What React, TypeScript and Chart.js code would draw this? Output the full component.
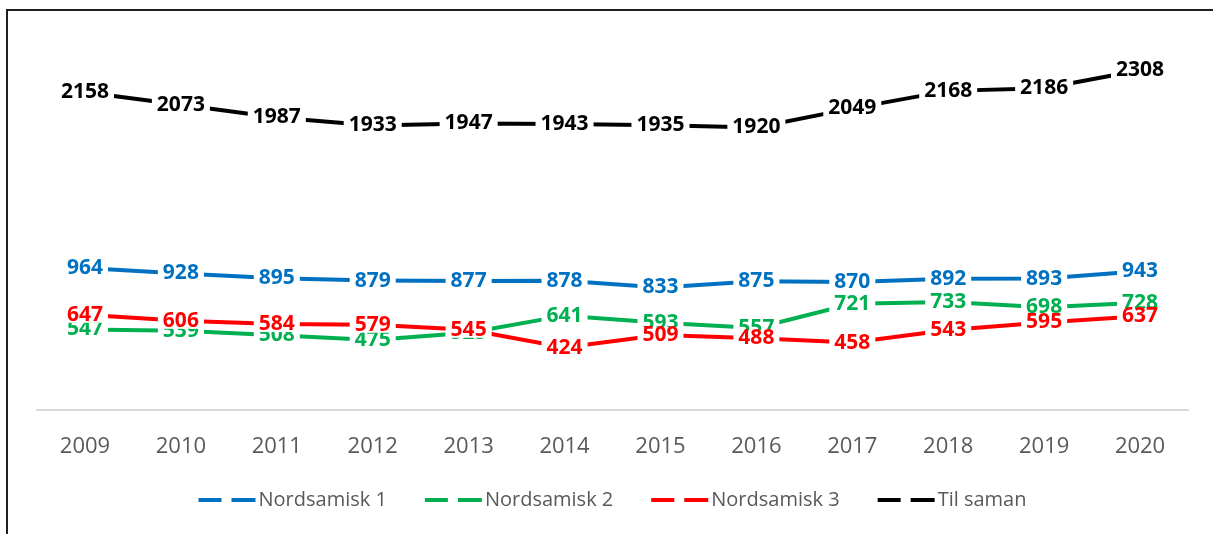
import React, { useEffect, useRef } from "react";
import { Chart, registerables } from "chart.js";

Chart.register(...registerables);

const years = ["2009", "2010", "2011", "2012", "2013", "2014", "2015", "2016", "2017", "2018", "2019", "2020"];
const nordsamisk1 = [964, 928, 895, 879, 877, 878, 833, 875, 870, 892, 893, 943];
const nordsamisk2 = [547, 539, 508, 475, 525, 641, 593, 557, 721, 733, 698, 728];
const nordsamisk3 = [647, 606, 584, 579, 545, 424, 509, 488, 458, 543, 595, 637];
const tilSaman = [2158, 2073, 1987, 1933, 1947, 1943, 1935, 1920, 2049, 2168, 2186, 2308];
const seriesNames = ["Nordsamisk 1", "Nordsamisk 2", "Nordsamisk 3", "Til saman"];
const seriesColors = ["#0070C0", "#00B050", "#FF0000", "#000000"];
const seriesValues = [nordsamisk1, nordsamisk2, nordsamisk3, tilSaman];

const FONT = "'Open Sans', 'Noto Sans', sans-serif";

const labelPlugin = {
  id: "pointValueLabels",
  afterDatasetDraw(chart: any, args: any) {
    const ds = chart.data.datasets[args.index];
    const meta = args.meta;
    const ctx = chart.ctx;
    ctx.save();
    ctx.font = `bold 21px ${FONT}`;
    ctx.textAlign = "center";
    ctx.textBaseline = "middle";
    meta.data.forEach((pt: any, j: number) => {
      const txt = String(ds.data[j]);
      const w = ctx.measureText(txt).width;
      ctx.fillStyle = "#ffffff";
      ctx.fillRect(pt.x - w / 2 - 5, pt.y - 8, w + 10, 16);
      ctx.fillStyle = ds.borderColor;
      ctx.fillText(txt, pt.x, pt.y);
    });
    ctx.restore();
  },
};

const legendPlugin = {
  id: "dashLegend",
  afterDraw(chart: any) {
    const ctx = chart.ctx;
    ctx.save();
    ctx.font = `20px ${FONT}`;
    const dash1 = 23, gap = 10, dash2 = 24, textGap = 3, itemGap = 38;
    const sample = dash1 + gap + dash2;
    const widths = seriesNames.map((n) => ctx.measureText(n).width);
    const total = widths.reduce((a, w) => a + sample + textGap + w, 0) + itemGap * (seriesNames.length - 1);
    let x = (chart.chartArea.left + chart.chartArea.right) / 2 - total / 2;
    const y = 489;
    ctx.textBaseline = "middle";
    ctx.textAlign = "left";
    seriesNames.forEach((name, i) => {
      ctx.strokeStyle = seriesColors[i];
      ctx.lineWidth = 4;
      ctx.lineCap = "butt";
      ctx.beginPath();
      ctx.moveTo(x, y);
      ctx.lineTo(x + dash1, y);
      ctx.moveTo(x + dash1 + gap, y);
      ctx.lineTo(x + sample, y);
      ctx.stroke();
      ctx.fillStyle = "#595959";
      ctx.fillText(name, x + sample + textGap, y);
      x += sample + textGap + widths[i] + itemGap;
    });
    ctx.restore();
  },
};

export default function App() {
  const canvasRef = useRef<HTMLCanvasElement | null>(null);

  useEffect(() => {
    if (!canvasRef.current) return;
    const chart = new Chart(canvasRef.current, {
      type: "line",
      data: {
        labels: years,
        datasets: seriesNames.map((name, i) => ({
          label: name,
          data: seriesValues[i],
          borderColor: seriesColors[i],
          backgroundColor: seriesColors[i],
          borderWidth: 4,
          borderCapStyle: "round" as const,
          pointRadius: 0,
          tension: 0,
          fill: false,
          order: seriesNames.length - i,
        })),
      },
      options: {
        animation: false,
        responsive: false,
        layout: { padding: { left: 29, right: 25, top: 31, bottom: 64 } },
        plugins: {
          legend: { display: false },
          tooltip: { enabled: false },
          title: { display: false },
        },
        scales: {
          x: {
            offset: true,
            grid: { display: false, drawTicks: false },
            border: { display: true, color: "#D9D9D9", width: 2 },
            ticks: {
              color: "#595959",
              font: { family: FONT, size: 22 },
              padding: 24,
              maxRotation: 0,
              autoSkip: false,
            },
            afterFit: (s: any) => {
              s.height = 60;
            },
          },
          y: { display: false, min: 0, max: 2500 },
        },
      },
      plugins: [labelPlugin, legendPlugin],
    });
    return () => chart.destroy();
  }, []);

  return (
    <div
      style={{
        position: "fixed",
        left: 6,
        top: 9,
        width: 1230,
        height: 540,
        boxSizing: "border-box",
        borderTop: "2px solid #1f1f1f",
        borderLeft: "2px solid #1f1f1f",
        background: "#ffffff",
      }}
    >
      <canvas ref={canvasRef} width={1205} height={523} style={{ display: "block", width: 1205, height: 523 }} />
    </div>
  );
}
